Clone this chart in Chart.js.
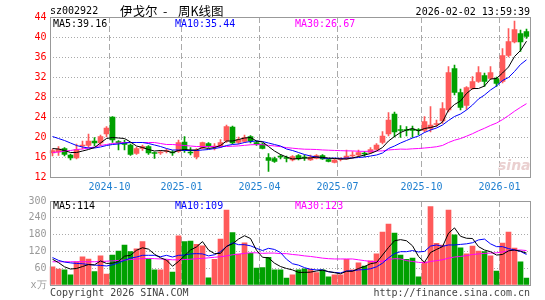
<!DOCTYPE html>
<html>
<head>
<meta charset="utf-8">
<script src="https://cdn.jsdelivr.net/npm/chart.js@4"></script>
<style>
  body { margin: 0; background: #fff; width: 545px; height: 300px; overflow: hidden; position: relative;
         font-family: "DejaVu Sans Mono", monospace; font-size: 10px; color: #000; }
  canvas { position: absolute; left: 0; }
  .t { position: absolute; white-space: nowrap; line-height: 12px; }
  .cjk { font-family: "Noto Sans CJK SC"; font-size: 12.5px; line-height: 14px; top: 4px; }
</style>
</head>
<body>
<canvas id="kChart" width="545" height="195" style="top:0"></canvas>
<canvas id="volChart" width="545" height="110" style="top:190px"></canvas>

<div class="t" style="left:50px;top:5px">sz002922</div>
<div class="t cjk" style="left:120px">伊戈尔</div>
<div class="t cjk" style="left:163px">-</div>
<div class="t cjk" style="left:178px">周K线图</div>
<div class="t" style="right:15px;top:6px">2026-02-02 13:59:39</div>
<div class="t" id="ma5Label" style="left:53px;top:18px;color:#000"></div>
<div class="t" id="ma10Label" style="left:175px;top:18px;color:#0000ff"></div>
<div class="t" id="ma30Label" style="left:295px;top:18px;color:#ff00ff"></div>
<div class="t" style="left:498px;top:157px;font-family:'DejaVu Sans';font-style:italic;font-weight:bold;font-size:14px;line-height:16px;color:#ead0d0">sina</div>
<div class="t" id="vma5Label" style="left:53px;top:200px;color:#000"></div>
<div class="t" id="vma10Label" style="left:175px;top:200px;color:#0000ff"></div>
<div class="t" id="vma30Label" style="left:295px;top:200px;color:#ff00ff"></div>
<div class="t" style="left:50px;top:287px;color:#444">Copyright 2026 SINA.COM</div>
<div class="t" style="right:15px;top:287px;color:#444">http://finance.sina.com.cn</div>

<script>
// weekly candles, week starting date
const weeks = [
  "2024-07-29","2024-08-05","2024-08-12","2024-08-19","2024-08-26","2024-09-02","2024-09-09","2024-09-16","2024-09-23","2024-09-30",
  "2024-10-07","2024-10-14","2024-10-21","2024-10-28","2024-11-04","2024-11-11","2024-11-18","2024-11-25","2024-12-02","2024-12-09",
  "2024-12-16","2024-12-23","2024-12-30","2025-01-06","2025-01-13","2025-01-20","2025-01-27","2025-02-03","2025-02-10","2025-02-17",
  "2025-02-24","2025-03-03","2025-03-10","2025-03-17","2025-03-24","2025-03-31","2025-04-07","2025-04-14","2025-04-21","2025-04-28",
  "2025-05-05","2025-05-12","2025-05-19","2025-05-26","2025-06-02","2025-06-09","2025-06-16","2025-06-23","2025-06-30","2025-07-07",
  "2025-07-14","2025-07-21","2025-07-28","2025-08-04","2025-08-11","2025-08-18","2025-08-25","2025-09-01","2025-09-08","2025-09-15",
  "2025-09-22","2025-09-29","2025-10-06","2025-10-13","2025-10-20","2025-10-27","2025-11-03","2025-11-10","2025-11-17","2025-11-24",
  "2025-12-01","2025-12-08","2025-12-15","2025-12-22","2025-12-29","2026-01-05","2026-01-12","2026-01-19","2026-01-26","2026-02-02"
];

const opens = [
  16.8,17.0,17.7,16.4,15.8,18.2,18.3,19.2,18.8,20.6,
  24.0,19.1,18.9,18.4,16.7,17.7,18.1,16.9,16.8,17.1,
  17.0,17.1,19.0,17.0,16.0,17.8,18.7,18.0,18.2,19.2,
  22.0,18.9,19.1,20.1,18.9,18.6,15.9,15.7,16.2,15.8,
  15.4,16.3,15.9,15.4,15.7,16.3,15.5,14.9,15.5,15.6,
  16.2,16.4,16.8,16.9,17.5,18.9,20.6,24.6,21.5,21.5,
  21.6,21.5,21.3,21.7,22.5,23.2,25.4,33.7,28.9,26.3,
  29.7,31.1,32.3,31.7,31.7,31.1,36.3,39.0,40.7,41.1
];
const highs = [
  17.6,18.1,17.9,16.6,18.6,19.2,20.6,19.9,20.4,22.1,
  24.1,19.3,19.4,18.6,18.0,18.4,18.3,17.0,17.3,17.6,
  17.3,19.4,20.1,17.9,17.7,19.0,18.9,18.7,19.5,22.4,
  22.2,20.0,20.4,20.3,19.2,18.8,16.7,16.0,16.5,16.2,
  16.3,16.5,16.4,16.4,16.5,16.5,15.6,15.6,15.9,17.4,
  17.1,17.4,17.1,17.9,18.7,21.1,24.9,25.0,22.3,22.1,
  22.2,21.7,24.1,26.1,23.4,26.9,34.1,34.4,29.6,30.1,
  32.1,34.1,32.8,34.1,32.0,37.7,41.7,43.2,41.4,41.6
];
const lows = [
  16.2,16.3,16.2,15.4,15.6,17.6,17.9,18.2,18.3,20.0,
  18.9,17.4,17.4,16.3,16.5,17.3,16.5,15.7,16.5,16.8,
  16.3,16.9,16.9,16.4,15.6,17.6,17.9,17.4,17.9,18.9,
  18.6,18.6,18.9,18.8,18.3,17.6,13.1,14.9,15.6,15.0,
  15.2,15.4,15.3,15.3,15.6,15.5,15.0,14.8,15.2,15.5,
  15.8,16.1,16.1,16.7,17.4,18.6,20.2,20.0,19.9,20.2,
  19.9,20.4,21.0,21.0,22.1,22.7,25.0,28.4,25.4,25.5,
  29.5,30.9,30.1,31.5,30.1,30.8,36.0,38.8,37.1,39.7
];
const closes = [
  17.3,17.6,16.5,15.8,17.5,18.4,19.2,18.8,20.1,21.8,
  19.4,18.8,18.5,16.5,17.7,18.1,16.8,16.7,17.0,17.3,
  16.8,18.9,17.3,16.8,17.4,18.9,18.1,18.2,18.9,22.1,
  18.8,19.5,19.9,19.2,18.6,17.7,15.3,15.1,16.0,15.7,
  16.1,15.6,15.8,16.0,16.3,15.6,15.1,15.4,15.7,16.2,
  16.4,16.9,16.6,17.5,18.4,20.2,23.4,21.0,21.3,21.3,
  21.3,21.3,23.1,22.4,22.7,25.7,32.9,28.9,25.9,29.9,
  31.1,32.9,31.1,32.9,30.7,36.3,39.1,41.5,39.0,40.1
];

const ma5 = [
  17.7,17.6,17.3,16.9,16.9,17.2,17.5,17.9,18.8,19.7,
  19.9,19.8,19.7,19.0,18.2,17.9,17.5,17.2,17.3,17.2,
  16.9,17.3,17.5,17.4,17.4,17.9,17.7,17.9,18.3,19.2,
  19.2,19.5,19.8,19.9,19.2,19.0,18.1,17.2,16.5,16.0,
  15.6,15.7,15.8,15.8,16.0,15.9,15.8,15.7,15.6,15.6,
  15.8,16.1,16.4,16.7,17.2,17.9,19.2,20.1,20.9,21.4,
  21.7,21.2,21.7,21.9,22.2,23.0,25.4,26.5,27.2,28.7,
  29.7,29.7,30.2,31.6,31.7,32.8,34.0,36.1,37.3,39.16
];
const ma10 = [
  20.1,19.7,19.3,18.8,18.3,18.0,17.8,17.8,18.0,18.3,
  18.5,18.6,18.8,18.9,18.9,18.9,18.7,18.4,18.1,17.7,
  17.4,17.4,17.3,17.3,17.3,17.4,17.5,17.7,17.9,18.3,
  18.5,18.6,18.9,19.1,19.2,19.1,18.8,18.5,18.2,17.6,
  17.3,16.9,16.5,16.2,16.0,15.8,15.7,15.8,15.7,15.8,
  15.8,15.9,16.0,16.2,16.4,16.8,17.7,18.2,18.8,19.3,
  19.8,20.2,20.9,21.4,21.8,22.4,23.3,24.1,24.6,25.4,
  26.4,27.6,28.4,29.4,30.2,31.3,31.9,33.1,34.5,35.44
];
const ma30 = [
  16.9,17.0,17.2,17.3,17.5,17.6,17.8,18.0,18.3,18.5,
  18.7,18.8,18.9,18.9,18.9,18.9,18.9,18.9,18.7,18.5,
  18.5,18.4,18.3,18.2,18.1,18.1,18.1,18.1,18.1,18.11,
  18.16,18.22,18.33,18.45,18.48,18.46,18.33,18.21,18.07,17.87,
  17.76,17.65,17.56,17.54,17.50,17.41,17.36,17.31,17.27,17.23,
  17.22,17.15,17.13,17.15,17.19,17.23,17.41,17.50,17.58,17.55,
  17.64,17.70,17.80,17.91,18.05,18.31,18.90,19.36,19.69,20.16,
  20.66,21.24,21.75,22.31,22.79,23.48,24.28,25.15,25.93,26.67
];

// volume, 万手
const volumes = [
  65,57,54,36,83,101,93,48,104,39,
  107,121,143,119,129,155,93,54,54,89,
  46,176,155,157,145,140,26,92,164,268,
  187,110,151,113,60,62,99,54,54,25,
  36,54,58,57,44,54,29,36,36,92,
  54,79,68,86,111,189,218,185,107,92,
  96,29,83,280,149,143,268,179,133,111,
  139,121,119,104,50,150,189,132,83,25
];
const volMa5 = [
  92,80,65,57,59,66,73,72,86,77,
  78,84,103,106,124,133,128,110,97,89,
  67,84,104,125,136,155,125,112,113,138,
  147,164,176,166,124,99,97,78,66,59,
  54,45,45,46,50,53,48,44,40,49,
  49,59,66,76,80,107,134,158,162,158,
  140,102,81,116,127,137,185,204,174,167,
  166,137,125,119,107,109,122,125,121,114
];
const volMa10 = [
  98,88,82,79,77,76,73,71,70,68,
  72,79,88,96,100,106,106,106,101,106,
  100,106,107,111,112,111,104,108,119,137,
  151,144,144,140,131,123,131,127,116,92,
  76,71,62,56,54,54,47,45,43,50,
  51,54,55,58,65,78,97,112,119,119,
  123,118,120,139,143,138,143,143,145,147,
  151,161,164,147,137,137,130,125,120,109
];
const volMa30 = [
  83,83,83,83,83,83,83,83,84,85,
  86,88,89,91,93,94,95,94,93,92,
  90,90,91,92,94,95,97,99,101,104,
  108,110,113,115,115,113,114,114,112,112,
  109,107,104,102,99,96,94,93,93,93,
  93,90,87,84,83,85,91,94,93,87,
  84,81,79,84,87,90,96,100,102,105,
  109,111,113,114,115,118,122,124,125,123
];

const monthTickIdx = [10, 22, 35, 48, 62, 75];
const monthTickText = ["2024-10", "2025-01", "2025-04", "2025-07", "2025-10", "2026-01"];

const UP = "#ff5a5a";
const DOWN = "#00a000";
const GRID = "#aaaaaa";

Chart.defaults.font.family = "'DejaVu Sans Mono', monospace";
Chart.defaults.font.size = 10;

const last = (arr) => arr[arr.length - 1];
document.getElementById("ma5Label").textContent = "MA5:" + last(ma5).toFixed(2);
document.getElementById("ma10Label").textContent = "MA10:" + last(ma10).toFixed(2);
document.getElementById("ma30Label").textContent = "MA30:" + last(ma30).toFixed(2);
document.getElementById("vma5Label").textContent = "MA5:" + last(volMa5);
document.getElementById("vma10Label").textContent = "MA10:" + last(volMa10);
document.getElementById("vma30Label").textContent = "MA30:" + last(volMa30);

const candleColors = closes.map((c, i) => (c >= opens[i] ? UP : DOWN));

// gray frame round the plot area
const framePlugin = {
  id: "frame",
  afterDraw(chart) {
    const { ctx, chartArea: a } = chart;
    const l = Math.round(a.left) + 0.5, r = Math.round(a.right) + 0.5;
    const t = Math.round(a.top) + 0.5, b = Math.round(a.bottom) + 0.5;
    ctx.save();
    ctx.strokeStyle = "#999";
    ctx.lineWidth = 1;
    ctx.strokeRect(l, t, r - l, b - t);
    ctx.restore();
  },
};

function maLine(data, color) {
  return {
    type: "line",
    data: data,
    borderColor: color,
    borderWidth: 1,
    pointRadius: 0,
    fill: false,
    tension: 0,
    order: 0,
  };
}

function monthGrid(ctx) {
  return monthTickIdx.includes(ctx.index) ? GRID : "transparent";
}

function xScale(showLabels, height) {
  return {
    type: "category",
    offset: true,
    grid: { offset: true, drawTicks: false, color: monthGrid },
    border: { display: false, dash: [6, 3] },
    ticks: {
      display: showLabels,
      autoSkip: false,
      maxRotation: 0,
      padding: 4,
      labelOffset: -3,
      color: "#1e7fd0",
      callback: (v, i) => {
        const k = monthTickIdx.indexOf(i);
        return k < 0 ? "" : monthTickText[k];
      },
    },
    afterFit: (s) => { s.height = height; },
  };
}

// price panel
new Chart(document.getElementById("kChart"), {
  type: "bar",
  data: {
    labels: weeks,
    datasets: [
      maLine(ma5, "#000000"),
      maLine(ma10, "#0000ff"),
      maLine(ma30, "#ff00ff"),
      {
        data: weeks.map((w, i) => [opens[i], closes[i]]),
        backgroundColor: candleColors,
        barThickness: 5,
        minBarLength: 1,
        grouped: false,
        order: 1,
      },
      {
        data: weeks.map((w, i) => [lows[i], highs[i]]),
        backgroundColor: candleColors,
        barThickness: 1,
        grouped: false,
        order: 2,
      },
    ],
  },
  options: {
    responsive: false,
    animation: false,
    devicePixelRatio: 1,
    layout: { padding: { top: 17, right: 15.5, left: 0, bottom: 0 } },
    plugins: { legend: { display: false }, tooltip: { enabled: false } },
    scales: {
      x: xScale(true, 18),
      y: {
        min: 12,
        max: 44,
        ticks: { stepSize: 4, padding: 3, color: "#ff0000" },
        grid: {
          drawTicks: false,
          color: (c) => (c.tick && c.tick.value > 12 && c.tick.value < 44 ? GRID : "transparent"),
        },
        border: { display: false, dash: [1, 2] },
        afterFit: (s) => { s.width = 49.5; },
      },
    },
  },
  plugins: [framePlugin],
});

// volume panel
new Chart(document.getElementById("volChart"), {
  type: "bar",
  data: {
    labels: weeks,
    datasets: [
      maLine(volMa5, "#000000"),
      maLine(volMa10, "#0000ff"),
      maLine(volMa30, "#ff00ff"),
      {
        data: volumes,
        backgroundColor: candleColors,
        barThickness: 5,
        order: 1,
      },
    ],
  },
  options: {
    responsive: false,
    animation: false,
    devicePixelRatio: 1,
    layout: { padding: { top: 11, right: 15.5, left: 0, bottom: 0 } },
    plugins: { legend: { display: false }, tooltip: { enabled: false } },
    scales: {
      x: xScale(false, 15),
      y: {
        min: 0,
        max: 300,
        ticks: {
          stepSize: 60,
          padding: 3,
          color: "#999999",
          callback: (v) => (v === 0 ? "x万" : v),
        },
        grid: {
          drawTicks: false,
          color: (c) => (c.tick && c.tick.value > 0 && c.tick.value < 300 ? GRID : "transparent"),
        },
        border: { display: false, dash: [1, 2] },
        afterFit: (s) => { s.width = 49.5; },
      },
    },
  },
  plugins: [framePlugin],
});
</script>
</body>
</html>
